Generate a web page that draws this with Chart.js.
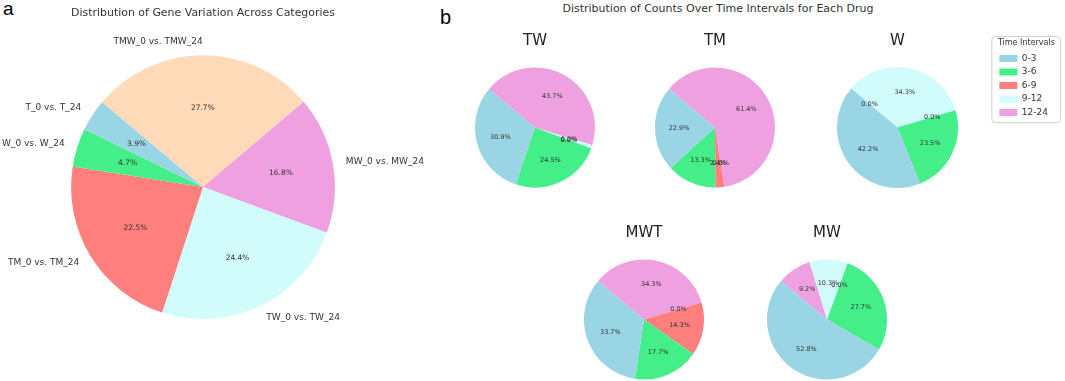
<!DOCTYPE html>
<html lang="en">
<head>
<meta charset="utf-8">
<title>Gene variation / time intervals</title>
<script src="https://cdn.jsdelivr.net/npm/chart.js@4.4.1/dist/chart.umd.min.js"></script>
<style>
  body { margin: 0; background: #fff; width: 1065px; height: 381px; overflow: hidden; position: relative; font-family: 'DejaVu Sans', sans-serif; }
  .box { position: absolute; }
  .panel { position: absolute; font-family: 'Liberation Sans', Arial, sans-serif; color: #000; line-height: 1; }
  .suptitle { position: absolute; left: 518px; width: 400px; top: 2px; text-align: center; font-size: 11px; line-height: 14px; color: #333; }
</style>
</head>
<body>
<div class="panel" style="left:3px; top:-1px; font-size:19px;">a</div>
<div class="panel" style="left:440px; top:7px; font-size:20px;">b</div>
<div class="suptitle">Distribution of Counts Over Time Intervals for Each Drug</div>

<div class="box" style="left:0; top:0; width:430px; height:381px;"><canvas id="genePie"></canvas></div>
<div class="box" style="left:470px; top:28px; width:130px; height:160px;"><canvas id="pieTW"></canvas></div>
<div class="box" style="left:650px; top:28px; width:130px; height:160px;"><canvas id="pieTM"></canvas></div>
<div class="box" style="left:795px; top:28px; width:270px; height:160px;"><canvas id="pieW"></canvas></div>
<div class="box" style="left:579px; top:220px; width:130px; height:160px;"><canvas id="pieMWT"></canvas></div>
<div class="box" style="left:762px; top:220px; width:130px; height:160px;"><canvas id="pieMW"></canvas></div>

<script>
// panel a
const geneLabels = ['T_0 vs. T_24', 'W_0 vs. W_24', 'TM_0 vs. TM_24', 'TW_0 vs. TW_24', 'MW_0 vs. MW_24', 'TMW_0 vs. TMW_24'];
const geneValues = [3.9, 4.7, 22.5, 24.4, 16.8, 27.7];
const geneColors = ['#9ad5e5', '#44ee88', '#ff7f7f', '#d2fcfc', '#eea0e0', '#ffdab9'];

// panel b
const intervals = ['0-3', '3-6', '6-9', '9-12', '12-24'];
const intervalColors = ['#9ad5e5', '#44ee88', '#ff7f7f', '#d2fcfc', '#eea0e0'];
const twValues  = [30.9, 24.5, 0.0, 0.9, 43.7];
const tmValues  = [22.9, 13.3, 2.4, 0.0, 61.4];
const wValues   = [42.2, 23.5, 0.0, 34.3, 0.0];
const mwtValues = [33.7, 17.7, 14.3, 0.0, 34.3];
const mwValues  = [52.8, 27.7, 0.0, 10.3, 9.2];

Chart.defaults.font.family = "'DejaVu Sans', sans-serif";
Chart.defaults.color = '#333';
Chart.defaults.animation = false;

// percent labels (and names outside), placed like matplotlib: pct at 0.6 r, names at 1.1 r
const pieLabels = {
  id: 'pieLabels',
  afterDatasetsDraw(chart, args, opts) {
    const ctx = chart.ctx;
    const meta = chart.getDatasetMeta(0);
    const data = chart.data.datasets[0].data;
    const total = data.reduce((a, b) => a + b, 0);
    ctx.save();
    ctx.fillStyle = '#333';
    ctx.textBaseline = 'middle';
    meta.data.forEach((arc, i) => {
      const p = arc.getProps(['x', 'y', 'startAngle', 'endAngle', 'outerRadius'], true);
      const mid = (p.startAngle + p.endAngle) / 2;
      const c = Math.cos(mid), s = Math.sin(mid);
      ctx.font = opts.pctSize + "px 'DejaVu Sans'";
      ctx.textAlign = 'center';
      ctx.fillText((data[i] / total * 100).toFixed(1) + '%', p.x + c * p.outerRadius * 0.6, p.y + s * p.outerRadius * 0.6);
      if (opts.names) {
        ctx.font = opts.nameSize + "px 'DejaVu Sans'";
        ctx.textAlign = c > 0 ? 'left' : 'right';
        ctx.fillText(chart.data.labels[i], p.x + c * p.outerRadius * 1.1, p.y + s * p.outerRadius * 1.1);
      }
    });
    ctx.restore();
  }
};

// thin frame round the legend
const legendFrame = {
  id: 'legendFrame',
  afterDraw(chart) {
    const lg = chart.legend;
    if (!lg || !lg.options.display || !lg.legendHitBoxes.length) return;
    const hb = lg.legendHitBoxes;
    const last = hb[hb.length - 1];
    const x0 = hb[0].left - 8, x1 = lg.left + lg.width + 2;
    const y0 = lg.top + 8, y1 = last.top + last.height + 5;
    const ctx = chart.ctx;
    ctx.save();
    ctx.strokeStyle = '#d0d0d0';
    ctx.lineWidth = 1;
    ctx.beginPath();
    ctx.roundRect(x0 + 0.5, y0 + 0.5, x1 - x0, y1 - y0, 3);
    ctx.stroke();
    ctx.restore();
  }
};

// matplotlib draws counter-clockwise from 140 deg, Chart.js clockwise: reverse the order
function rev(a) { return a.slice().reverse(); }

new Chart(document.getElementById('genePie'), {
  type: 'pie',
  data: {
    labels: rev(geneLabels),
    datasets: [{
      data: rev(geneValues),
      backgroundColor: rev(geneColors),
      borderWidth: 0,
      hoverOffset: 0
    }]
  },
  options: {
    responsive: true,
    maintainAspectRatio: false,
    rotation: -50,
    layout: { padding: { left: 71, right: 95, top: 0, bottom: 62 } },
    events: [],
    plugins: {
      legend: { display: false },
      tooltip: { enabled: false },
      title: {
        display: true,
        text: 'Distribution of Gene Variation Across Categories',
        font: { size: 11, weight: 'normal' },
        color: '#333',
        padding: { top: 7, bottom: 35 }
      },
      pieLabels: { names: true, nameSize: 9, pctSize: 7.5 }
    }
  },
  plugins: [pieLabels]
});

function drugPie(id, name, values, withLegend) {
  const opts = {
    responsive: true,
    maintainAspectRatio: false,
    rotation: -50,
    events: [],
    layout: { padding: withLegend ? { left: 5, right: 7, top: 0, bottom: 0 } : { left: 5, right: 5, top: 0, bottom: 0 } },
    plugins: {
      tooltip: { enabled: false },
      title: {
        display: true,
        text: name,
        fullSize: !withLegend,
        font: { size: 15, weight: 'normal' },
        color: '#222',
        padding: { top: 4, bottom: 17 }
      },
      legend: {
        display: withLegend,
        position: 'right',
        align: 'start',
        reverse: true,
        title: {
          display: true,
          text: 'Time Intervals',
          font: { size: 8 },
          color: '#333',
          padding: { top: 11, bottom: 1 }
        },
        labels: {
          boxWidth: 18,
          boxHeight: 7,
          padding: 4.5,
          font: { size: 9 },
          color: '#333'
        }
      },
      pieLabels: { names: false, pctSize: 6.5 }
    }
  };
  return new Chart(document.getElementById(id), {
    type: 'pie',
    data: {
      labels: rev(intervals),
      datasets: [{
        data: rev(values),
        backgroundColor: rev(intervalColors),
        borderWidth: 0,
        hoverOffset: 0
      }]
    },
    options: opts,
    plugins: withLegend ? [pieLabels, legendFrame] : [pieLabels]
  });
}

drugPie('pieTW', 'TW', twValues, false);
drugPie('pieTM', 'TM', tmValues, false);
drugPie('pieW', 'W', wValues, true);
drugPie('pieMWT', 'MWT', mwtValues, false);
drugPie('pieMW', 'MW', mwValues, false);
</script>
</body>
</html>
